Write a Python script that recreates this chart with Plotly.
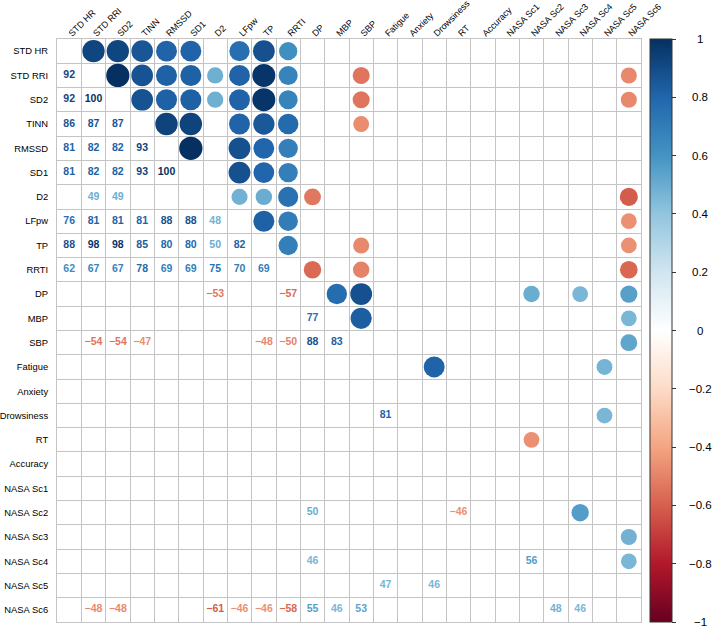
import plotly.graph_objects as go
from plotly.colors import sample_colorscale

variables = ["STD HR", "STD RRI", "SD2", "TINN", "RMSSD", "SD1", "D2", "LFpw", "TP",
             "RRTI", "DP", "MBP", "SBP", "Fatigue", "Anxiety", "Drowsiness", "RT",
             "Accuracy", "NASA Sc1", "NASA Sc2", "NASA Sc3", "NASA Sc4", "NASA Sc5",
             "NASA Sc6"]

# significant correlations (x100), lower triangle: row variable, column variable, value
lower_row = (["STD RRI"] + ["SD2"] * 2 + ["TINN"] * 3 + ["RMSSD"] * 4 + ["SD1"] * 5
             + ["D2"] * 2 + ["LFpw"] * 7 + ["TP"] * 8 + ["RRTI"] * 9 + ["DP"] * 2
             + ["MBP"] + ["SBP"] * 7 + ["Drowsiness"] + ["NASA Sc2"] * 2
             + ["NASA Sc4"] * 2 + ["NASA Sc5"] * 2 + ["NASA Sc6"] * 11)
lower_col = (["STD HR"]
             + ["STD HR", "STD RRI"]
             + ["STD HR", "STD RRI", "SD2"]
             + ["STD HR", "STD RRI", "SD2", "TINN"]
             + ["STD HR", "STD RRI", "SD2", "TINN", "RMSSD"]
             + ["STD RRI", "SD2"]
             + ["STD HR", "STD RRI", "SD2", "TINN", "RMSSD", "SD1", "D2"]
             + ["STD HR", "STD RRI", "SD2", "TINN", "RMSSD", "SD1", "D2", "LFpw"]
             + ["STD HR", "STD RRI", "SD2", "TINN", "RMSSD", "SD1", "D2", "LFpw", "TP"]
             + ["D2", "RRTI"]
             + ["DP"]
             + ["STD RRI", "SD2", "TINN", "TP", "RRTI", "DP", "MBP"]
             + ["Fatigue"]
             + ["DP", "RT"]
             + ["DP", "NASA Sc2"]
             + ["Fatigue", "Drowsiness"]
             + ["STD RRI", "SD2", "D2", "LFpw", "TP", "RRTI", "DP", "MBP", "SBP",
                "NASA Sc3", "NASA Sc4"])
lower_value = ([92]
               + [92, 100]
               + [86, 87, 87]
               + [81, 82, 82, 93]
               + [81, 82, 82, 93, 100]
               + [49, 49]
               + [76, 81, 81, 81, 88, 88, 48]
               + [88, 98, 98, 85, 80, 80, 50, 82]
               + [62, 67, 67, 78, 69, 69, 75, 70, 69]
               + [-53, -57]
               + [77]
               + [-54, -54, -47, -48, -50, 88, 83]
               + [81]
               + [50, -46]
               + [46, 56]
               + [47, 46]
               + [-48, -48, -61, -46, -46, -58, 55, 46, 53, 48, 46])

colorbar_ticks = [1, 0.8, 0.6, 0.4, 0.2, 0, -0.2, -0.4, -0.6, -0.8, -1]

rdbu = ["#67001F", "#B2182B", "#D6604D", "#F4A582", "#FDDBC7", "#FFFFFF",
        "#D1E5F0", "#92C5DE", "#4393C3", "#2166AC", "#053061"]
colorscale = [[k / 10, c] for k, c in enumerate(rdbu)]

n = len(variables)
idx = {v: k for k, v in enumerate(variables)}
r_vals = [v / 100 for v in lower_value]

W, H = 715, 628
ML, MR, MT, MB = 57, 74, 39, 6
cell = (W - ML - MR) / n
FONT = "Liberation Sans, Arial, Helvetica, sans-serif"

fig = go.Figure()

# upper triangle: circles (area ~ |r|)
fig.add_trace(go.Scatter(
    x=[idx[r] for r in lower_row],
    y=[idx[c] for c in lower_col],
    mode="markers",
    marker=dict(
        color=r_vals, colorscale=colorscale, cmin=-1, cmax=1, opacity=1,
        size=[0.955 * cell * abs(r) ** 0.5 for r in r_vals],
        line=dict(width=0),
        showscale=True,
        colorbar=dict(
            x=(650 - ML) / (W - ML - MR), xanchor="left", xpad=0,
            y=0.5, yanchor="middle", ypad=0, len=1, lenmode="fraction",
            thickness=22, thicknessmode="pixels",
            outlinewidth=1, outlinecolor="#333333",
            tickmode="array", tickvals=colorbar_ticks,
            ticks="outside", ticklen=4, tickwidth=1, tickcolor="#333333",
            showticklabels=False,
        ),
    ),
    hoverinfo="skip", showlegend=False, cliponaxis=False,
))

# lower triangle: numbers
text_colors = sample_colorscale(colorscale, [(r + 1) / 2 for r in r_vals])
fig.add_trace(go.Scatter(
    x=[idx[c] for c in lower_col],
    y=[idx[r] for r in lower_row],
    mode="text",
    text=[str(v).replace("-", "\u2212") for v in lower_value],
    textposition="middle center",
    textfont=dict(family=FONT, size=10.5, color=text_colors, weight="bold"),
    hoverinfo="skip", showlegend=False,
))

# colorbar labels (centered like the reference)
for t in colorbar_ticks:
    lab = ("%g" % t).replace("-", "\u2212")
    fig.add_annotation(
        x=(700 - ML) / (W - ML - MR), y=(t + 1) / 2, xref="paper", yref="paper",
        text=lab, showarrow=False, xanchor="center", yanchor="middle",
        font=dict(family=FONT, size=11.5, color="black"),
    )

axis_common = dict(
    range=[-0.5, n - 0.5], tickmode="array", tickvals=list(range(n)),
    ticktext=variables, showgrid=False, zeroline=False, ticks="",
    tickfont=dict(family=FONT, size=9.4, color="black"),
    showline=True, mirror=True, linecolor="#C4C4C4", linewidth=1,
    minor=dict(tickmode="array", tickvals=[k - 0.5 for k in range(n + 1)],
               showgrid=True, gridcolor="#C4C4C4", gridwidth=1, ticks=""),
    fixedrange=True, automargin=False,
)
fig.update_xaxes(**{**axis_common, "tickfont": dict(family=FONT, size=9.0, color="black")},
                 side="top", tickangle=-45, ticklabelstandoff=-4)
fig.update_yaxes(**{**axis_common, "range": [n - 0.5, -0.5]}, ticklabelstandoff=6)

fig.update_layout(
    width=W, height=H,
    margin=dict(l=ML, r=MR, t=MT, b=MB, pad=0, autoexpand=False),
    plot_bgcolor="white", paper_bgcolor="white",
    font=dict(family=FONT, color="black"),
)

fig.write_html(
    "out.html",
    config={"displayModeBar": False, "staticPlot": True},
    post_script="document.body.style.margin='0px';document.body.style.overflow='hidden';",
)
